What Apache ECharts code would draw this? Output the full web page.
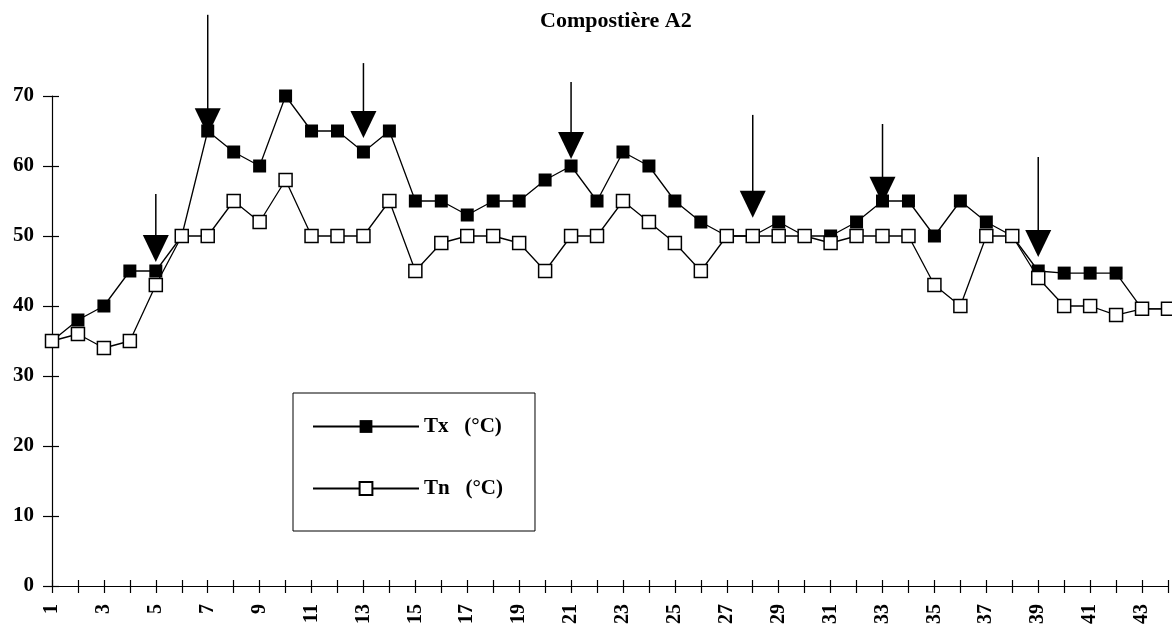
<!DOCTYPE html>
<html>
<head>
<meta charset="utf-8">
<script src="https://cdn.jsdelivr.net/npm/echarts@6/dist/echarts.min.js"></script>
<style>
  html, body { margin: 0; padding: 0; background: #fff; }
  #main { width: 1172px; height: 632px; }
</style>
</head>
<body>
<div id="main"></div>
<script>
// jours 1..44
var days = [];
for (var d = 1; d <= 44; d++) days.push(String(d));

// températures
var tx = [35, 38, 40, 45, 45, 50, 65, 62, 60, 70,
          65, 65, 62, 65, 55, 55, 53, 55, 55, 58,
          60, 55, 62, 60, 55, 52, 50, 50, 52, 50,
          50, 52, 55, 55, 50, 55, 52, 50, 45, 44.7,
          44.7, 44.7, 39.6, 39.6];
var tn = [35, 36, 34, 35, 43, 50, 50, 55, 52, 58,
          50, 50, 50, 55, 45, 49, 50, 50, 49, 45,
          50, 50, 55, 52, 49, 45, 50, 50, 50, 50,
          49, 50, 50, 50, 43, 40, 50, 50, 44, 40,
          40, 38.7, 39.6, 39.6];

// flèches (retournements)
var arrowDays = ['5', '7', '13', '21', '28', '33', '39'];
var arrowTops = [56, 81.6, 74.7, 72, 67.3, 66, 61.3];
var arrowTips = [46.3, 64.4, 64, 61, 52.6, 54.6, 47];

var yTicks = [0, 10, 20, 30, 40, 50, 60, 70];

var serif = 'Liberation Serif';
var myChart = echarts.init(document.getElementById('main'));

function renderArrow(params, api) {
    var top = api.coord([api.value(0), api.value(1)]);
    var tip = api.coord([api.value(0), api.value(2)]);
    var hw = 13, h = 27;
    return {
        type: 'group',
        children: [{
            type: 'line',
            shape: { x1: top[0], y1: top[1], x2: tip[0], y2: tip[1] - h + 2 },
            style: { stroke: '#000', lineWidth: 1.5 }
        }, {
            type: 'polygon',
            shape: { points: [[tip[0] - hw, tip[1] - h], [tip[0] + hw, tip[1] - h], [tip[0], tip[1]]] },
            style: { fill: '#000' }
        }]
    };
}

var option = {
    backgroundColor: '#fff',
    animation: false,
    title: {
        text: 'Compostière A2',
        left: 535,
        top: 5,
        textStyle: { fontFamily: serif, fontSize: 22, fontWeight: 'bold', color: '#000' }
    },
    legend: {
        data: ['Tx   (°C)', 'Tn   (°C)'],
        orient: 'vertical',
        left: 293,
        top: 393,
        padding: [23, 32, 32, 19],
        itemGap: 41,
        itemWidth: 106,
        itemHeight: 16,
        borderColor: '#000',
        borderWidth: 1,
        textStyle: { fontFamily: serif, fontSize: 21, fontWeight: 'bold', color: '#000' }
    },
    grid: { left: 52, right: 4, top: 96, bottom: 46 },
    xAxis: [{
        type: 'category',
        data: days,
        boundaryGap: false,
        position: 'bottom',
        axisLine: { lineStyle: { color: '#000', width: 1.2 } },
        axisTick: { interval: 0, length: 7, lineStyle: { color: '#000', width: 1.2 } },
        axisLabel: {
            interval: 1, rotate: 90, margin: 18,
            fontFamily: serif, fontSize: 20, fontWeight: 'bold', color: '#000'
        },
        splitLine: { show: false }
    }, {
        type: 'category',
        data: days,
        boundaryGap: false,
        position: 'bottom',
        axisLine: { show: false },
        axisTick: { interval: 0, inside: true, length: 6, lineStyle: { color: '#000', width: 1.2 } },
        axisLabel: { show: false },
        splitLine: { show: false }
    }],
    yAxis: [{
        type: 'value',
        min: yTicks[0],
        max: yTicks[yTicks.length - 1],
        interval: 10,
        position: 'left',
        axisLine: { show: true, lineStyle: { color: '#000', width: 1.2 } },
        axisTick: { show: true, length: 9, lineStyle: { color: '#000', width: 1.2 } },
        axisLabel: { margin: 18, fontFamily: serif, fontSize: 21, fontWeight: 'bold', color: '#000' },
        splitLine: { show: false }
    }, {
        type: 'value',
        min: yTicks[0],
        max: yTicks[yTicks.length - 1],
        interval: 10,
        position: 'left',
        axisLine: { show: false },
        axisTick: { show: true, inside: true, length: 7, lineStyle: { color: '#000', width: 1.2 } },
        axisLabel: { show: false },
        splitLine: { show: false }
    }],
    series: [{
        name: 'Tx   (°C)',
        type: 'line',
        data: tx,
        showAllSymbol: true,
        symbol: 'rect',
        symbolSize: 13,
        itemStyle: { color: '#000' },
        lineStyle: { color: '#000', width: 1.3 },
        z: 2
    }, {
        name: 'Tn   (°C)',
        type: 'line',
        data: tn,
        showAllSymbol: true,
        symbol: 'rect',
        symbolSize: 13,
        itemStyle: { color: '#fff', borderColor: '#000', borderWidth: 1.5 },
        lineStyle: { color: '#000', width: 1.3 },
        z: 3
    }, {
        name: 'arrows',
        type: 'custom',
        renderItem: renderArrow,
        data: arrowDays.map(function (d, i) { return [d, arrowTops[i], arrowTips[i]]; }),
        encode: { x: 0, y: [1, 2] },
        clip: false,
        silent: true,
        z: 4
    }]
};

myChart.setOption(option);
</script>
</body>
</html>
